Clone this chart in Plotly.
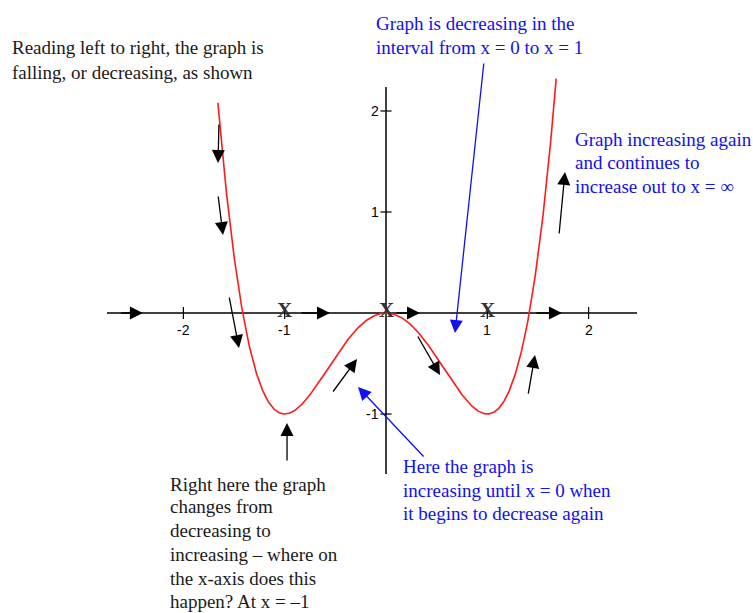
import numpy as np
import plotly.graph_objects as go

# f(x) = x^4 - 2x^2, highest power first
coeffs = [1, 0, -2, 0, 0]
x_start, x_end = -1.66, 1.68

x_ticks = [-2, -1, 1, 2]
x_tick_labels = ["-2", "-1", "1", "2"]
y_ticks = [2, 1, -1]
y_tick_labels = ["2", "1", "-1"]

# turning-point locations marked with an X on the x-axis
crit_x = [-1, 0, 1]

# direction arrows (tail x, tail y, head x, head y)
black_arrows = [
    (-2.63, 0.0, -2.40, 0.0),
    (-0.85, 0.0, -0.553, 0.0),
    (0.09, 0.0, 0.336, 0.0),
    (1.47, 0.0, 1.737, 0.0),
    (-1.649, 1.881, -1.658, 1.485),
    (-1.658, 1.168, -1.609, 0.772),
    (-1.550, 0.168, -1.451, -0.347),
    (0.306, -0.218, 0.533, -0.614),
    (-0.533, -0.792, -0.286, -0.455),
    (-0.977, -1.475, -0.977, -1.089),
    (1.402, -0.812, 1.471, -0.416),
    (1.708, 0.772, 1.767, 1.396),
]
blue_arrows = [
    (0.967, 2.485, 0.681, -0.198),
    (0.385, -1.436, -0.276, -0.733),
]

# text blocks: (left px, [(center y px, line), ...], colour)
notes = [
    (10, [(48, "Reading left to right, the graph is"),
          (72, "falling, or decreasing, as shown")], "#1a1a1a"),
    (374, [(24, "Graph is decreasing in the"),
           (47, "interval from x = 0 to x = 1")], "#1010f0"),
    (573, [(139, "Graph increasing again"),
           (162, "and continues to"),
           (186, "increase out to x = \u221e")], "#1010f0"),
    (168, [(484, "Right here the graph"),
           (507, "changes from"),
           (530, "decreasing to"),
           (554, "increasing \u2013 where on"),
           (578, "the x-axis does this"),
           (601, "happen? At x = \u20131")], "#1a1a1a"),
    (401, [(466, "Here the graph is"),
           (490, "increasing until x = 0 when"),
           (513, "it begins to decrease again")], "#1010f0"),
]

W, H = 753, 613
x_axis_span = (-2.754, 2.478)
y_axis_span = (-1.594, 2.238)
x_range = [-3.8105, 3.623]
y_range = [-2.970, 3.099]

xs = np.linspace(x_start, x_end, 600)
ys = np.polyval(coeffs, xs)

fig = go.Figure()
fig.add_trace(go.Scatter(x=xs, y=ys, mode="lines",
                         line=dict(color="#ff1a1a", width=1.6),
                         hoverinfo="skip", showlegend=False))

shapes = [
    dict(type="line", xref="x", yref="y", x0=x_axis_span[0], x1=x_axis_span[1],
         y0=0, y1=0, line=dict(color="black", width=1.5), layer="below"),
    dict(type="line", xref="x", yref="y", x0=0, x1=0,
         y0=y_axis_span[0], y1=y_axis_span[1], line=dict(color="black", width=1.5),
         layer="below"),
]
for t in x_ticks:
    shapes.append(dict(type="line", xref="x", yref="y", x0=t, x1=t, y0=-0.06, y1=0.06,
                       line=dict(color="black", width=1.2)))
for t in y_ticks:
    shapes.append(dict(type="line", xref="x", yref="y", x0=-0.055, x1=0.055, y0=t, y1=t,
                       line=dict(color="black", width=1.2)))

ann = []
tick_font = dict(family="Liberation Sans, Arial, sans-serif", size=14, color="black")
for t, lab in zip(x_ticks, x_tick_labels):
    ann.append(dict(x=t, y=0, xref="x", yref="y", text=lab, showarrow=False,
                    yshift=-17, font=tick_font))
for t, lab in zip(y_ticks, y_tick_labels):
    ann.append(dict(x=-0.05, y=t, xref="x", yref="y", text=lab, showarrow=False,
                    xanchor="right", font=tick_font))

for cx in crit_x:
    ann.append(dict(x=cx, y=0, xref="x", yref="y", text="<b>X</b>",
                    showarrow=False, yshift=3,
                    font=dict(family="Liberation Serif, serif", size=21, color="#333333")))

for tx, ty, hx, hy in black_arrows:
    ann.append(dict(x=hx, y=hy, ax=tx, ay=ty, xref="x", yref="y", axref="x", ayref="y",
                    text="", showarrow=True, arrowhead=2, arrowsize=2.0,
                    arrowwidth=1.3, arrowcolor="black"))
for tx, ty, hx, hy in blue_arrows:
    ann.append(dict(x=hx, y=hy, ax=tx, ay=ty, xref="x", yref="y", axref="x", ayref="y",
                    text="", showarrow=True, arrowhead=2, arrowsize=2.0,
                    arrowwidth=1.3, arrowcolor="#1010f0"))

for left, lines, col in notes:
    for cy, line in lines:
        ann.append(dict(x=left / W, y=1 - cy / H, xref="paper", yref="paper",
                        text=line, showarrow=False, xanchor="left", yanchor="middle",
                        font=dict(family="Liberation Serif, serif", size=19, color=col)))

fig.update_layout(
    width=W, height=H,
    margin=dict(l=0, r=0, t=0, b=0),
    paper_bgcolor="white", plot_bgcolor="white",
    xaxis=dict(range=x_range, visible=False, fixedrange=True),
    yaxis=dict(range=y_range, visible=False, fixedrange=True),
    shapes=shapes, annotations=ann, showlegend=False,
)

fig.write_html("out.html")
